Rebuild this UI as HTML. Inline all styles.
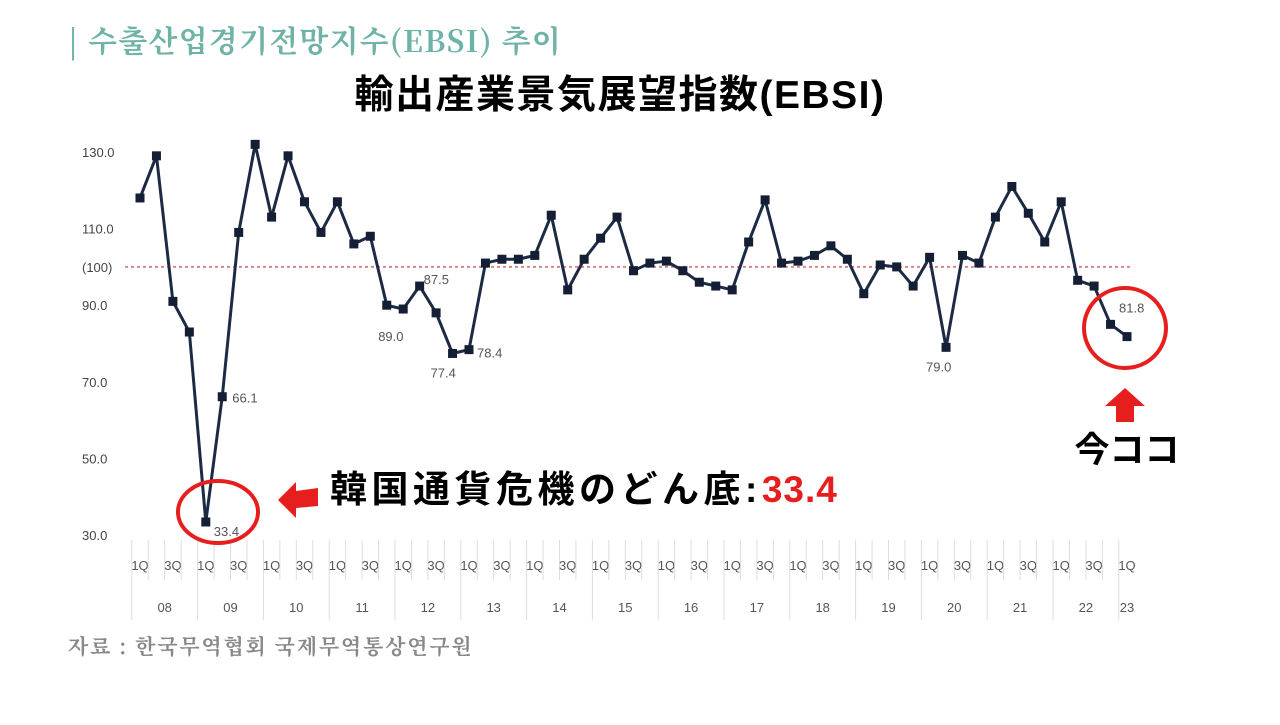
<!DOCTYPE html>
<html><head><meta charset="utf-8"><style>
body{margin:0;background:#fff;width:1280px;height:720px;overflow:hidden;font-family:"Liberation Sans","Noto Sans CJK JP",sans-serif}
</style></head><body>
<svg width="1280" height="720" xmlns="http://www.w3.org/2000/svg">
<text x="68" y="52" font-size="30" font-weight="bold" fill="#6fb3a8" letter-spacing="1.2" font-family="'Noto Serif CJK SC','Noto Sans CJK KR',serif">| 수출산업경기전망지수(EBSI) 추이</text>
<text x="620" y="108" font-size="39" font-weight="bold" text-anchor="middle" fill="#000" letter-spacing="1.5" font-family="'Liberation Sans','Noto Sans CJK JP',sans-serif">輸出産業景気展望指数(EBSI)</text>
<g id="yaxis"></g>
<g id="xaxis"></g>
<line id="ref" stroke="#d9888c" stroke-width="2" stroke-dasharray="3,3"/>
<polyline id="line" fill="none" stroke="#1c2a44" stroke-width="3"/>
<g id="pts"></g>
<g id="lbls"></g>
<ellipse cx="218" cy="512" rx="40" ry="31" fill="none" stroke="#e61e1e" stroke-width="4"/>
<polygon points="278,500 296,482 296,491 318,488 318,506 296,508 296,518" fill="#e61e1e"/>
<text x="330" y="502" font-size="37" font-weight="bold" fill="#000" letter-spacing="4.5">韓国通貨危機のどん底:<tspan fill="#e61e1e" letter-spacing="1">33.4</tspan></text>
<ellipse cx="1125" cy="328" rx="41" ry="40" fill="none" stroke="#e61e1e" stroke-width="4"/>
<polygon points="1125,388 1145,406 1134,406 1134,422 1116,422 1116,406 1105,406" fill="#e61e1e"/>
<text x="1127" y="462" font-size="35" font-weight="bold" text-anchor="middle" fill="#000">今ココ</text>
<text x="68" y="654" font-size="21" font-weight="bold" fill="#888" letter-spacing="1.8" font-family="'Noto Serif CJK SC','Noto Sans CJK KR',serif">자료 : 한국무역협회 국제무역통상연구원</text>
</svg>
<script>
const values=[118,129,91,83,33.4,66.1,109,132,113,129,117,109,117,106,108,90,89.0,95,88,77.4,78.4,101,102,102,103,113.5,94,102,107.5,113,99,101,101.5,99,96,95,94,106.5,117.5,101,101.5,103,105.5,102,93,100.5,100,95,102.5,79.0,103,101,113,121,114,106.5,117,96.5,95,85,81.8];
const years=["08","09","10","11","12","13","14","15","16","17","18","19","20","21","22","23"];
const yTicks=["130.0","110.0","(100)","90.0","70.0","50.0","30.0"];
const yTickVals=[130,110,100,90,70,50,30];
const labelIdx=[4,5,16,17,19,20,49,60];
const labelText=["33.4","66.1","89.0","87.5","77.4","78.4","79.0","81.8"];
const NS="http://www.w3.org/2000/svg";
const X=i=>140+i*16.45, Y=v=>152+(130-v)*3.83;
function mk(tag,attrs,parent,txt){const e=document.createElementNS(NS,tag);for(const k in attrs)e.setAttribute(k,attrs[k]);if(txt!==undefined)e.textContent=txt;parent.appendChild(e);return e;}
const ya=document.getElementById('yaxis');
yTicks.forEach((t,k)=>{const e=mk('text',{x:82,y:Y(yTickVals[k])+5,'font-size':13,fill:'#444'},ya,t);

});
const ref=document.getElementById('ref');
ref.setAttribute('x1',125);ref.setAttribute('x2',1130);ref.setAttribute('y1',Y(100));ref.setAttribute('y2',Y(100));
document.getElementById('line').setAttribute('points',values.map((v,i)=>X(i)+','+Y(v)).join(' '));
const pg=document.getElementById('pts');
values.forEach((v,i)=>{const r=mk('rect',{x:X(i)-4.5,y:Y(v)-4.5,width:9,height:9,fill:'#141e34'},pg);

});
const lg=document.getElementById('lbls');
const off=[[8,14],[10,6],[-25,32],[4,-2],[-22,24],[8,8],[-20,24],[-8,-24]];
labelIdx.forEach((i,k)=>{const e=mk('text',{x:X(i)+off[k][0],y:Y(values[i])+off[k][1],'font-size':13,fill:'#555'},lg,labelText[k]);

});
const xa=document.getElementById('xaxis');
for(let q=0;q<values.length;q++){const x=X(q)-8.2;const isYear=q%4===0;
const l=mk('line',{x1:x,x2:x,y1:540,y2:isYear?620:580,stroke:'#ddd','stroke-width':1},xa);


if(q%2===0){const t=mk('text',{x:X(q),y:570,'font-size':13,fill:'#555','text-anchor':'middle'},xa,q%4===0?'1Q':'3Q');

}}
years.forEach((y,k)=>{const cx=k<15?X(k*4+1.5):X(60);const t=mk('text',{x:cx,y:612,'font-size':13,fill:'#555','text-anchor':'middle'},xa,y);

});
</script>
</body></html>
